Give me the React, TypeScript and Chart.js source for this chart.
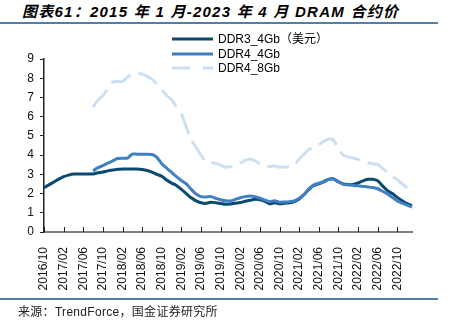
import React, { useEffect, useRef } from "react";
import { Chart, registerables } from "chart.js";

Chart.register(...registerables);

const months = [
  "2016/10", "2016/11", "2016/12",
  "2017/01", "2017/02", "2017/03", "2017/04", "2017/05", "2017/06", "2017/07", "2017/08", "2017/09", "2017/10", "2017/11", "2017/12",
  "2018/01", "2018/02", "2018/03", "2018/04", "2018/05", "2018/06", "2018/07", "2018/08", "2018/09", "2018/10", "2018/11", "2018/12",
  "2019/01", "2019/02", "2019/03", "2019/04", "2019/05", "2019/06", "2019/07", "2019/08", "2019/09", "2019/10", "2019/11", "2019/12",
  "2020/01", "2020/02", "2020/03", "2020/04", "2020/05", "2020/06", "2020/07", "2020/08", "2020/09", "2020/10", "2020/11", "2020/12",
  "2021/01", "2021/02", "2021/03", "2021/04", "2021/05", "2021/06", "2021/07", "2021/08", "2021/09", "2021/10", "2021/11", "2021/12",
  "2022/01", "2022/02", "2022/03", "2022/04", "2022/05", "2022/06", "2022/07", "2022/08", "2022/09", "2022/10", "2022/11", "2022/12",
  "2023/01",
];

const tickLabels = [
  "2016/10", "2017/02", "2017/06", "2017/10", "2018/02", "2018/06", "2018/10",
  "2019/02", "2019/06", "2019/10", "2020/02", "2020/06", "2020/10", "2021/02",
  "2021/06", "2021/10", "2022/02", "2022/06", "2022/10",
];

const yTicks = [0, 1, 2, 3, 4, 5, 6, 7, 8, 9];

const ddr3_4Gb = [
  2.31, 2.45, 2.6, 2.75, 2.88, 2.96, 3.02, 3.02, 3.02, 3.02,
  3.02, 3.08, 3.12, 3.18, 3.22, 3.26, 3.28, 3.28, 3.28, 3.28,
  3.25, 3.2, 3.12, 3.0, 2.9, 2.7, 2.54, 2.42, 2.22, 2.0,
  1.78, 1.62, 1.52, 1.49, 1.55, 1.52, 1.48, 1.44, 1.46, 1.5,
  1.53, 1.6, 1.65, 1.7, 1.68, 1.6, 1.47, 1.52, 1.47, 1.5,
  1.52, 1.58, 1.72, 1.95, 2.22, 2.42, 2.5, 2.62, 2.74, 2.76,
  2.62, 2.5, 2.47, 2.47, 2.55, 2.66, 2.74, 2.74, 2.66, 2.4,
  2.15, 2.0, 1.8, 1.62, 1.48, 1.36,
];

const ddr4_4Gb = [
  null, null, null, null, null, null, null, null, null, null,
  3.18, 3.35, 3.45, 3.58, 3.7, 3.82, 3.84, 3.84, 4.05, 4.05,
  4.05, 4.05, 4.03, 3.88, 3.55, 3.32, 3.1, 2.88, 2.68, 2.5,
  2.22, 1.98, 1.84, 1.82, 1.84, 1.75, 1.68, 1.62, 1.62, 1.7,
  1.78, 1.84, 1.87, 1.84, 1.76, 1.66, 1.58, 1.63, 1.55, 1.56,
  1.58, 1.62, 1.75, 1.95, 2.25, 2.45, 2.54, 2.6, 2.74, 2.76,
  2.6, 2.48, 2.45, 2.42, 2.4, 2.37, 2.34, 2.32, 2.25, 2.12,
  1.98, 1.8, 1.62, 1.5, 1.4, 1.3,
];

const ddr4_8Gb = [
  null, null, null, null, null, null, null, null, null, null,
  6.5, 6.85, 7.1, 7.45, 7.8, 7.83, 7.83, 8.05, 8.2, 8.22,
  8.22, 8.1, 7.95, 7.7, 7.4, 7.1, 6.88, 6.5, 6.15, 5.45,
  4.8, 4.4, 4.0, 3.68, 3.62, 3.57, 3.48, 3.37, 3.4, 3.45,
  3.58, 3.72, 3.8, 3.7, 3.55, 3.45, 3.4, 3.44, 3.37, 3.38,
  3.4, 3.48, 3.8, 4.05, 4.3, 4.42, 4.55, 4.7, 4.85, 4.78,
  4.35, 4.0, 3.9, 3.85, 3.78, 3.68, 3.6, 3.55, 3.52, 3.3,
  3.1, 2.9, 2.72, 2.5, 2.3, null,
];

const seriesNames = ["DDR3_4Gb（美元）", "DDR4_4Gb", "DDR4_8Gb"];
const seriesColors = ["#0b4a70", "#3f80c3", "#cde0f3"];
const seriesDash: number[][] = [[], [], [22, 8]];

const FONT = "'Liberation Sans', Arial, 'Noto Sans CJK SC', sans-serif";

const xTickMarks = {
  id: "xTickMarks",
  afterDraw(chart: any) {
    const { ctx, chartArea } = chart;
    const x = chart.scales.x;
    ctx.save();
    ctx.strokeStyle = "#222";
    ctx.lineWidth = 1;
    months.forEach((m, i) => {
      if (tickLabels.includes(m)) {
        const px = Math.round(x.getPixelForValue(i)) + 0.5;
        ctx.beginPath();
        ctx.moveTo(px, chartArea.bottom);
        ctx.lineTo(px, chartArea.bottom - 5);
        ctx.stroke();
      }
    });
    ctx.restore();
  },
};

export default function App() {
  const canvasRef = useRef<HTMLCanvasElement | null>(null);

  useEffect(() => {
    if (!canvasRef.current) return;
    const datas = [ddr3_4Gb, ddr4_4Gb, ddr4_8Gb];
    const orders = [1, 0, 2];
    const chart = new Chart(canvasRef.current, {
      type: "line",
      data: {
        labels: months,
        datasets: datas.map((d, k) => ({
          label: seriesNames[k],
          data: d,
          borderColor: seriesColors[k],
          backgroundColor: seriesColors[k],
          borderWidth: 3,
          borderDash: seriesDash[k],
          pointRadius: 0,
          tension: 0.25,
          fill: false,
          spanGaps: false,
          order: orders[k],
          borderCapStyle: "butt",
          borderJoinStyle: "round",
        })),
      },
      options: {
        responsive: false,
        animation: false,
        devicePixelRatio: 1,
        layout: { padding: { top: 59, left: 0, right: 38, bottom: 34 } },
        plugins: { legend: { display: false }, tooltip: { enabled: false } },
        scales: {
          x: {
            type: "category",
            offset: false,
            grid: { display: false },
            border: { display: true, color: "#7f7f7f", width: 2 },
            ticks: {
              autoSkip: false,
              maxRotation: 90,
              minRotation: 90,
              padding: 7,
              color: "#111",
              font: { family: FONT, size: 12 },
              callback: (_v: any, i: number) => (tickLabels.includes(months[i]) ? months[i] : ""),
            },
            afterFit: (s: any) => {
              s.height = 60;
            },
          },
          y: {
            min: 0,
            max: 9,
            afterBuildTicks: (s: any) => {
              s.ticks = yTicks.map((v) => ({ value: v }));
            },
            ticks: { padding: 6, color: "#111", font: { family: FONT, size: 12 } },
            grid: { drawOnChartArea: false, drawTicks: true, tickLength: 4, color: "#222", tickColor: "#222" },
            border: { display: true, color: "#222", width: 1.5 },
            afterFit: (s: any) => {
              s.width = 44;
            },
          },
        },
      },
      plugins: [xTickMarks],
    } as any);
    return () => chart.destroy();
  }, []);

  const legendY = [39, 54, 68];

  return (
    <div style={{ position: "fixed", left: 0, top: 0, width: 450, height: 326, background: "#fff", overflow: "hidden" }}>
      <div
        style={{
          position: "absolute",
          left: 22,
          top: 3,
          fontFamily: FONT,
          fontSize: 15,
          letterSpacing: "1.25px",
          lineHeight: "18px",
          fontWeight: "bold",
          fontStyle: "italic",
          color: "#000",
          whiteSpace: "pre",
        }}
      >
        图表61：2015 年 1 月-2023 年 4 月 DRAM 合约价
      </div>
      <div style={{ position: "absolute", left: 0, top: 22, width: 438, height: 2, background: "#4f7fab" }} />
      <canvas ref={canvasRef} width={450} height={326} style={{ position: "absolute", left: 0, top: 0, width: 450, height: 326 }} />
      {seriesNames.map((name, k) => (
        <React.Fragment key={name}>
          <svg
            width={42}
            height={6}
            style={{ position: "absolute", left: 172, top: legendY[k] - 3 }}
          >
            <line
              x1={0}
              y1={3}
              x2={41}
              y2={3}
              stroke={seriesColors[k]}
              strokeWidth={3}
              strokeDasharray={seriesDash[k].length ? "18 13" : undefined}
            />
          </svg>
          <span
            style={{
              position: "absolute",
              left: 218,
              top: legendY[k] - 8,
              fontFamily: FONT,
              fontSize: 12,
              lineHeight: "16px",
              color: "#000",
              whiteSpace: "pre",
            }}
          >
            {name}
          </span>
        </React.Fragment>
      ))}
      <div style={{ position: "absolute", left: 0, top: 298, width: 438, height: 1.5, background: "#4f7fab" }} />
      <div
        style={{
          position: "absolute",
          left: 18,
          top: 304,
          fontFamily: FONT,
          fontSize: 12,
          letterSpacing: "0.3px",
          lineHeight: "16px",
          color: "#222",
          whiteSpace: "pre",
        }}
      >
        来源：TrendForce，国金证券研究所
      </div>
    </div>
  );
}
